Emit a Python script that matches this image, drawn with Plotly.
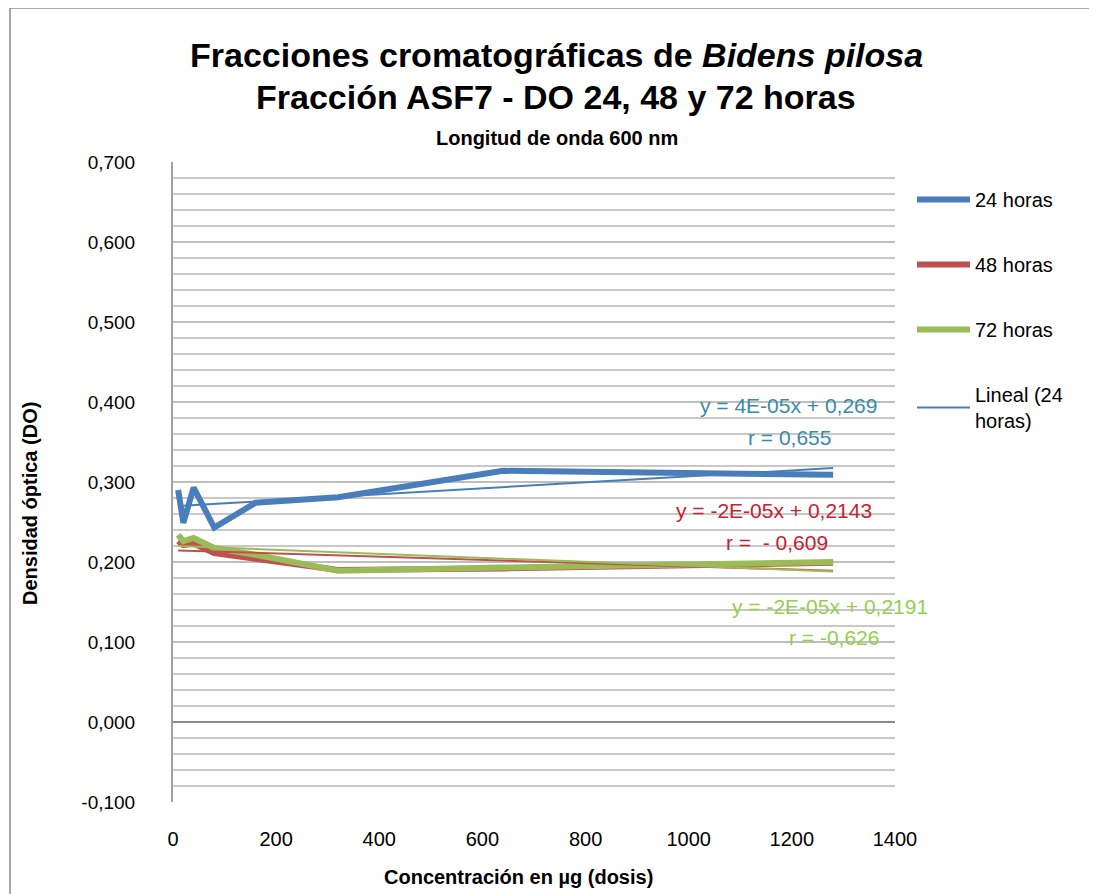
import numpy as np
import plotly.graph_objects as go

# ---- data ----
dosis = [10, 20, 40, 80, 160, 320, 640, 1280]
do_24h = [0.290, 0.249, 0.293, 0.243, 0.274, 0.281, 0.314, 0.309]
do_48h = [0.226, 0.221, 0.223, 0.211, 0.204, 0.190, 0.192, 0.199]
do_72h = [0.234, 0.226, 0.230, 0.2175, 0.209, 0.189, 0.193, 0.200]
series_names = ["24 horas", "48 horas", "72 horas"]
trend_name = "Lineal (24<br>horas)"
eq_texts = ["y = 4E-05x + 0,269", "y = -2E-05x + 0,2143", "y = -2E-05x + 0,2191"]
r_texts = ["r = 0,655", "r =  - 0,609", "r = -0,626"]
x_ticks = [0, 200, 400, 600, 800, 1000, 1200, 1400]
y_ticks = [-0.1, 0.0, 0.1, 0.2, 0.3, 0.4, 0.5, 0.6, 0.7]
y_ticktext = [f"{v:.3f}".replace(".", ",") for v in y_ticks]

colors = ["#4A7EBB", "#C0504D", "#9BBB59"]
text_colors = ["#3A8BA6", "#C8202F", "#92D050"]
FONT = "Liberation Sans, Arial, Helvetica, sans-serif"

fig = go.Figure()
series = [do_24h, do_48h, do_72h]
for i, (name, ys) in enumerate(zip(series_names, series)):
    fig.add_trace(go.Scatter(
        x=dosis, y=ys, mode="lines", name=name,
        line=dict(color=colors[i], width=6),
        legendgroup=f"g{i}", showlegend=True,
    ))

# linear trendlines fitted from the data
for i, ys in enumerate(series):
    m, b = np.polyfit(dosis, ys, 1)
    xs = [min(dosis), max(dosis)]
    fig.add_trace(go.Scatter(
        x=xs, y=[m * v + b for v in xs], mode="lines",
        name=trend_name if i == 0 else f"Lineal ({series_names[i]})",
        line=dict(color=colors[i], width=2),
        legendgroup=f"t{i}", showlegend=(i == 0),
    ))

# plot-area geometry (page pixels of the target) and body-margin offset
L, R, T, B, W, H = 173, 895, 162, 802, 1097, 894
OFF = 8
def px(x):
    return (x - L) / (R - L)
def py(y):
    return (B - y) / (B - T)

eq_pos = [(1193, 0.396), (1166, 0.265), (1274, 0.145)]
r_pos = [(1196, 0.356), (1171, 0.225), (1282, 0.106)]
annotations = []
for i in range(3):
    for txt, pos in ((eq_texts[i], eq_pos[i]), (r_texts[i], r_pos[i])):
        annotations.append(dict(x=pos[0], y=pos[1], xref="x", yref="y",
                                text=txt, showarrow=False,
                                xanchor="center", yanchor="middle",
                                font=dict(family=FONT, size=21, color=text_colors[i])))

def lab(x, y, text, size, angle=0):
    return dict(x=px(x), y=py(y), xref="paper", yref="paper", showarrow=False,
                xanchor="center", yanchor="middle", text=text, textangle=angle,
                font=dict(family=FONT, size=size, color="black"))

annotations += [
    lab(556, 55, "<b>Fracciones cromatográficas de <i>Bidens pilosa</i></b>", 34),
    lab(556, 97, "<b>Fracción ASF7 - DO 24, 48 y 72 horas</b>", 34),
    lab(557, 138, "<b>Longitud de onda 600 nm</b>", 20),
    lab(518, 877, "<b>Concentración en µg (dosis)</b>", 20),
    lab(30, 504, "<b>Densidad óptica (DO)</b>", 20, -90),
]

fig.update_layout(
    width=W, height=H,
    margin=dict(l=L - OFF, r=W - R + OFF, t=T - OFF, b=H - B + OFF, autoexpand=False),
    paper_bgcolor="white", plot_bgcolor="white",
    font=dict(family=FONT, size=20, color="black"),
    showlegend=True,
    legend=dict(x=px(912), y=py(180), xanchor="left", yanchor="top",
                font=dict(family=FONT, size=20, color="black"),
                itemwidth=53, tracegroupgap=36, bgcolor="rgba(0,0,0,0)"),
    annotations=annotations,
    shapes=[dict(type="rect", xref="paper", yref="paper",
                 x0=px(10), x1=px(1094), y0=py(905), y1=py(8),
                 line=dict(color="#8C8C8C", width=1.5))],
)
fig.update_xaxes(range=[0, 1400], tickvals=x_ticks, showgrid=False,
                 zeroline=False, showline=False, ticks="",
                 ticklabelstandoff=23, tickfont=dict(size=20))
fig.update_yaxes(range=[-0.1, 0.7], tickvals=y_ticks, ticktext=y_ticktext,
                 showgrid=True, gridcolor="#BEBEBE", gridwidth=1.5,
                 minor=dict(dtick=0.02, showgrid=True, gridcolor="#C8C8C8", gridwidth=1.5),
                 zeroline=True, zerolinecolor="#8A8A8A", zerolinewidth=1.5,
                 showline=True, linecolor="#A0A0A0", linewidth=2, ticks="",
                 ticklabelstandoff=32, tickfont=dict(size=19))

fig.write_html("out.html")
